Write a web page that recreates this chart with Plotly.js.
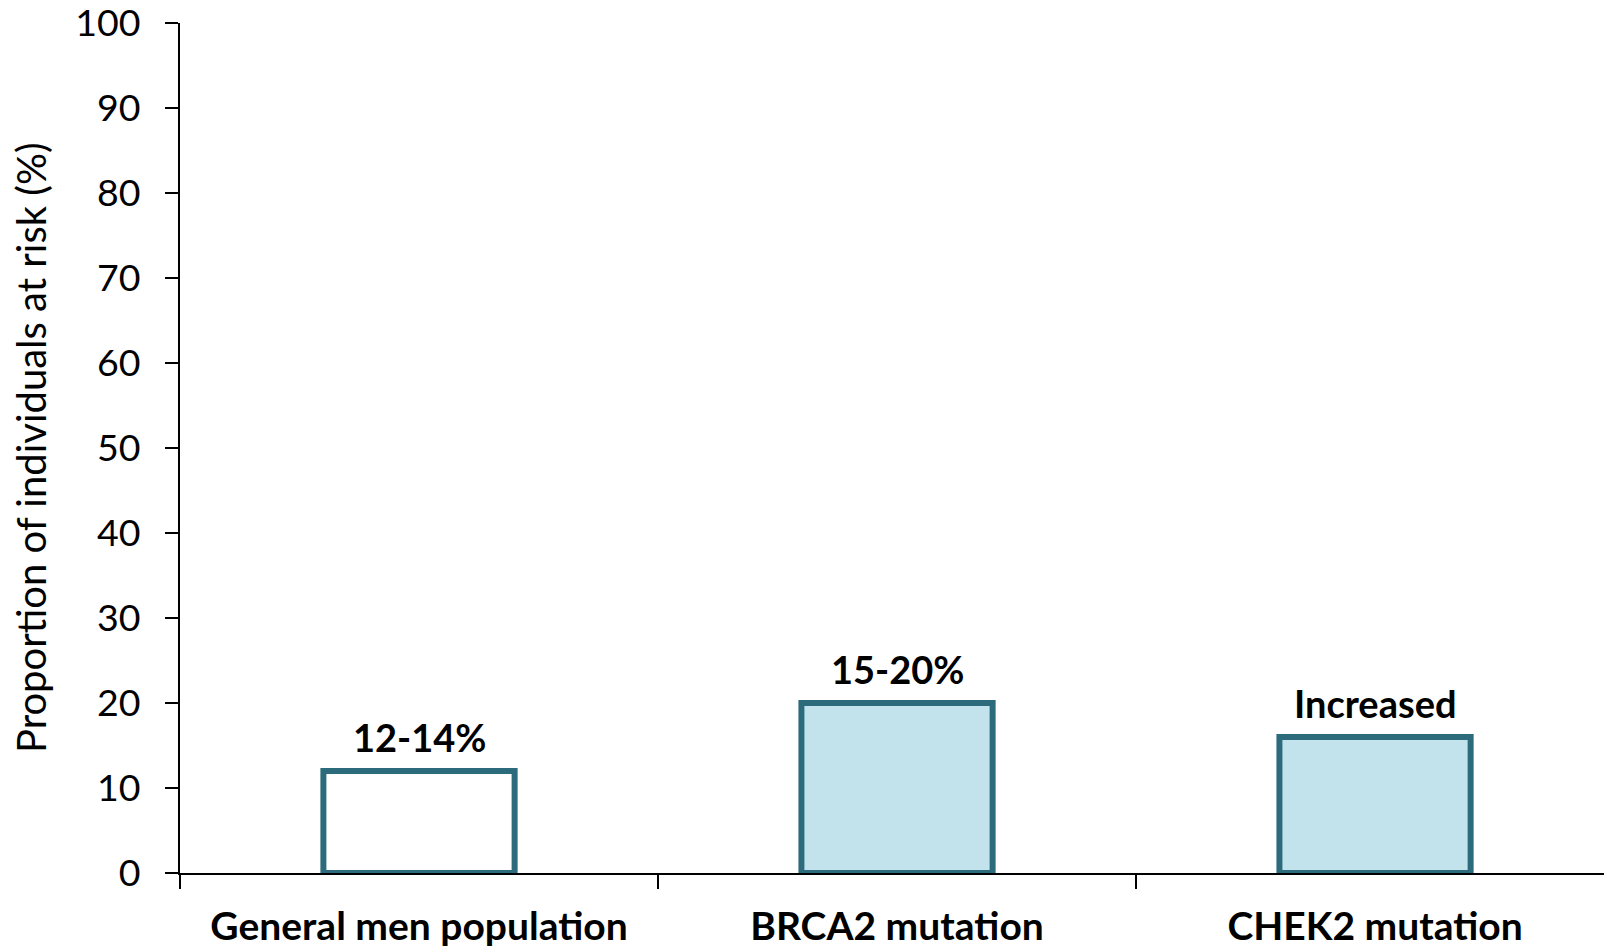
<!DOCTYPE html>
<html>
<head>
<meta charset="utf-8">
<script src="https://cdn.plot.ly/plotly-3.0.1.min.js"></script>
<style>html,body{margin:0;padding:0;background:#fff;}#chart{width:1604px;height:949px;}</style>
</head>
<body>
<div id="chart"></div>
<script>
const categories = ["General men population", "BRCA2 mutation", "CHEK2 mutation"];
const values = [12, 20, 16];
const barLabels = ["12-14%", "15-20%", "Increased"];
const fillColors = ["#ffffff", "#c3e3ec", "#c3e3ec"];
const yTicks = [0, 10, 20, 30, 40, 50, 60, 70, 80, 90, 100];
const yTitle = "Proportion of individuals at risk (%)";

const trace = {
  type: "bar",
  x: categories,
  y: values,
  width: 0.4,
  marker: {color: fillColors, line: {color: "#2b6b7b", width: 6}},
  hoverinfo: "skip"
};

const annotations = categories.map((c, i) => ({
  x: c, y: values[i], xref: "x", yref: "y",
  text: barLabels[i], showarrow: false,
  yanchor: "bottom", yshift: 9,
  font: {family: "Lato, 'Open Sans', sans-serif", size: 38, color: "#000", weight: "bold"}
}));
annotations.push({
  xref: "paper", yref: "paper", x: 0, y: 0.5,
  xanchor: "center", yanchor: "middle", xshift: -149,
  textangle: -90, text: yTitle, showarrow: false,
  font: {family: "Lato, 'Open Sans', sans-serif", size: 40, color: "#000"}
});

const layout = {
  width: 1604, height: 949,
  margin: {l: 180, r: 0, t: 22.5, b: 76.4, pad: 0},
  paper_bgcolor: "#fff", plot_bgcolor: "#fff",
  showlegend: false,
  font: {family: "Lato, 'Open Sans', sans-serif", color: "#000"},
  xaxis: {
    type: "category",
    range: [-0.5, 2.479],
    tickson: "boundaries",
    ticks: "outside", ticklen: 14, tickwidth: 2, tickcolor: "#000",
    showline: true, linecolor: "#000", linewidth: 2,
    showgrid: false, zeroline: false,
    ticklabelstandoff: 18,
    ticklabeloverflow: "allow",
    tickfont: {size: 39, family: "Lato, 'Open Sans', sans-serif", weight: "bold", color: "#000"}
  },
  yaxis: {
    range: [0, 100],
    tickvals: yTicks,
    ticktext: yTicks.map(String),
    ticks: "outside", ticklen: 13, tickwidth: 2, tickcolor: "#000",
    showline: true, linecolor: "#000", linewidth: 2,
    showgrid: false, zeroline: false,
    ticklabelstandoff: 17,
    ticklabeloverflow: "allow",
    tickfont: {size: 37.5, family: "Lato, 'Open Sans', sans-serif", color: "#000"}
  },
  annotations: annotations
};

Plotly.newPlot("chart", [trace], layout, {staticPlot: true, displayModeBar: false});
</script>
</body>
</html>
